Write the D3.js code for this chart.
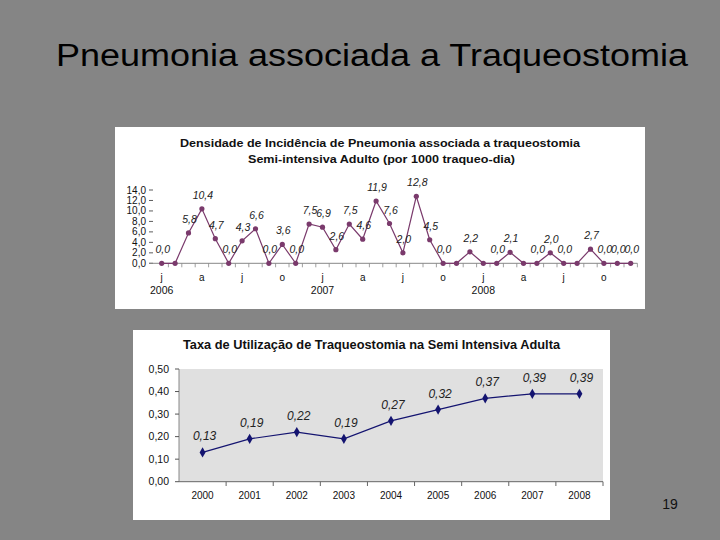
<!DOCTYPE html>
<html><head><meta charset="utf-8">
<script src="https://cdn.jsdelivr.net/npm/d3@7"></script>
<style>html,body{margin:0;padding:0;background:#858585;}svg{display:block;font-family:"Liberation Sans",Arial,sans-serif;}</style>
</head><body><svg id="c" width="720" height="540"></svg>
<script>
// ---- Data ----
const slideTitle = "Pneumonia associada a Traqueostomia";
const pageNumber = "19";

// Chart 1: monthly incidence density, Jan 2006 – Dec 2008
const topTitle1 = "Densidade de Incidência de Pneumonia associada a traqueostomia";
const topTitle2 = "Semi-intensiva Adulto (por 1000 traqueo-dia)";
const monthlyValues = [0.0,0.0,5.8,10.4,4.7,0.0,4.3,6.6,0.0,3.6,0.0,7.5,
                       6.9,2.6,7.5,4.6,11.9,7.6,2.0,12.8,4.5,0.0,0.0,2.2,
                       0.0,0.0,2.1,0.0,0.0,2.0,0.0,0.0,2.7,0.0,0.0,0.0];
const monthLetters = ["j","a","j","o"];           // shown every 3rd month
const yearLabels = ["2006","2007","2008"];
const topYTicks = [0,2,4,6,8,10,12,14];
const hiddenLabelIdx = [1,22,24,27,31];          // labels hidden by overlap in the original

// Chart 2: yearly utilization rate
const bottomTitle = "Taxa de Utilização de Traqueostomia na Semi Intensiva Adulta";
const years = ["2000","2001","2002","2003","2004","2005","2006","2007","2008"];
const rates = [0.13,0.19,0.22,0.19,0.27,0.32,0.37,0.39,0.39];
const bottomYTicks = [0,0.1,0.2,0.3,0.4,0.5];

const fmt1 = d => d.toFixed(1).replace(".", ",");
const fmt2 = d => d.toFixed(2).replace(".", ",");

const svg = d3.select("#c");
svg.append("rect").attr("width",720).attr("height",540).attr("fill","#858585");

svg.append("text").attr("x",56).attr("y",66).attr("font-size",31)
  .attr("textLength",632).attr("lengthAdjust","spacingAndGlyphs")
  .attr("fill","#000").text(slideTitle);
svg.append("text").attr("x",670).attr("y",509).attr("font-size",14).attr("text-anchor","middle")
  .attr("fill","#111").text(pageNumber);

// ---- Top chart ----
const g1 = svg.append("g");
g1.append("rect").attr("x",115).attr("y",127).attr("width",530).attr("height",182).attr("fill","#fff");
g1.append("text").attr("x",180).attr("y",146.5).attr("font-size",11.5)
  .attr("textLength",400).attr("lengthAdjust","spacingAndGlyphs")
  .attr("font-weight","bold").attr("fill","#111").text(topTitle1);
g1.append("text").attr("x",248).attr("y",162.5).attr("font-size",11.5)
  .attr("textLength",267).attr("lengthAdjust","spacingAndGlyphs")
  .attr("font-weight","bold").attr("fill","#111").text(topTitle2);

const x1 = d3.scaleLinear().domain([0, monthlyValues.length-1]).range([161.7, 630.7]);
const y1 = d3.scaleLinear().domain([0,14]).range([263.3, 190]);
const step1 = x1(1)-x1(0);

// y ticks
const yAx1 = g1.append("g");
yAx1.selectAll("text").data(topYTicks).join("text")
  .attr("x",146).attr("y",d=>y1(d)+3.5).attr("text-anchor","end").attr("font-size",10)
  .attr("fill","#111").text(fmt1);
yAx1.selectAll("line").data(topYTicks).join("line")
  .attr("x1",149).attr("x2",153).attr("y1",d=>y1(d)).attr("y2",d=>y1(d))
  .attr("stroke","#333").attr("stroke-width",0.8);

// x axis
g1.append("line").attr("x1",x1(0)-step1/2-6).attr("x2",x1(35)+step1/2)
  .attr("y1",y1(0)).attr("y2",y1(0)).attr("stroke","#888").attr("stroke-width",1);
const halfTicks = d3.range(0, monthlyValues.length).map(i=>i+0.5);
g1.selectAll(".xt1").data(halfTicks).join("line").attr("class","xt1")
  .attr("x1",d=>x1(d)).attr("x2",d=>x1(d)).attr("y1",y1(0)).attr("y2",y1(0)+4)
  .attr("stroke","#888").attr("stroke-width",0.8);
const monthIdx = d3.range(0, monthlyValues.length, 3);
g1.selectAll(".ml").data(monthIdx).join("text").attr("class","ml")
  .attr("x",d=>x1(d)).attr("y",281).attr("text-anchor","middle").attr("font-size",10)
  .attr("fill","#111").text((d,i)=>monthLetters[i%monthLetters.length]);
g1.selectAll(".yl").data(yearLabels).join("text").attr("class","yl")
  .attr("x",(d,i)=>x1(i*12)).attr("y",294).attr("text-anchor","middle").attr("font-size",10.5)
  .attr("fill","#111").text(d=>d);

// line + markers
const line1 = d3.line().x((d,i)=>x1(i)).y(d=>y1(d));
g1.append("path").datum(monthlyValues).attr("d",line1).attr("fill","none")
  .attr("stroke","#7a3a6c").attr("stroke-width",1.2);
g1.selectAll(".pt1").data(monthlyValues).join("circle").attr("class","pt1")
  .attr("cx",(d,i)=>x1(i)).attr("cy",d=>y1(d)).attr("r",2.6).attr("fill","#7a3a6c");
g1.selectAll(".vl1").data(monthlyValues.map((v,i)=>({v,i})).filter(d=>!hiddenLabelIdx.includes(d.i)))
  .join("text").attr("class","vl1")
  .attr("x",d=>x1(d.i)+1).attr("y",d=>y1(d.v)-10).attr("text-anchor","middle")
  .attr("font-size",10.5).attr("font-style","italic").attr("fill","#222").text(d=>fmt1(d.v));

// ---- Bottom chart ----
const g2 = svg.append("g");
g2.append("rect").attr("x",133).attr("y",330).attr("width",477).attr("height",190).attr("fill","#fff");
g2.append("text").attr("x",183).attr("y",349).attr("font-size",12)
  .attr("textLength",377).attr("lengthAdjust","spacingAndGlyphs")
  .attr("font-weight","bold").attr("fill","#111").text(bottomTitle);

const x2 = d3.scaleBand().domain(years).range([179, 603]);
const y2 = d3.scaleLinear().domain([0,0.5]).range([481.7, 369]);
g2.append("rect").attr("x",179).attr("y",369).attr("width",424).attr("height",481.7-369).attr("fill","#e0e0e0");

g2.append("line").attr("x1",179).attr("x2",179).attr("y1",369).attr("y2",481.7).attr("stroke","#888");
g2.selectAll(".yt2").data(bottomYTicks).join("line").attr("class","yt2")
  .attr("x1",175).attr("x2",179).attr("y1",d=>y2(d)).attr("y2",d=>y2(d)).attr("stroke","#555");
g2.selectAll(".ytl2").data(bottomYTicks).join("text").attr("class","ytl2")
  .attr("x",169).attr("y",d=>y2(d)+3.5).attr("text-anchor","end").attr("font-size",10.5)
  .attr("fill","#111").text(fmt2);

g2.append("line").attr("x1",179).attr("x2",603).attr("y1",481.7).attr("y2",481.7).attr("stroke","#666");
g2.selectAll(".xt2").data(years).join("line").attr("class","xt2")
  .attr("x1",d=>x2(d)+x2.bandwidth()).attr("x2",d=>x2(d)+x2.bandwidth())
  .attr("y1",481.7).attr("y2",486).attr("stroke","#666");
g2.selectAll(".xl2").data(years).join("text").attr("class","xl2")
  .attr("x",d=>x2(d)+x2.bandwidth()/2).attr("y",499).attr("text-anchor","middle")
  .attr("font-size",10).attr("fill","#111").text(d=>d);

const line2 = d3.line().x((d,i)=>x2(years[i])+x2.bandwidth()/2).y(d=>y2(d));
g2.append("path").datum(rates).attr("d",line2).attr("fill","none")
  .attr("stroke","#141470").attr("stroke-width",1.2);
g2.selectAll(".pt2").data(rates).join("path").attr("class","pt2")
  .attr("transform",(d,i)=>`translate(${x2(years[i])+x2.bandwidth()/2},${y2(d)})`)
  .attr("d",d3.symbol().type(d3.symbolDiamond).size(30)).attr("fill","#141470");
g2.selectAll(".vl2").data(rates).join("text").attr("class","vl2")
  .attr("x",(d,i)=>x2(years[i])+x2.bandwidth()/2+2).attr("y",d=>y2(d)-12)
  .attr("text-anchor","middle").attr("font-size",12).attr("font-style","italic")
  .attr("fill","#222").text(fmt2);
</script></body></html>
